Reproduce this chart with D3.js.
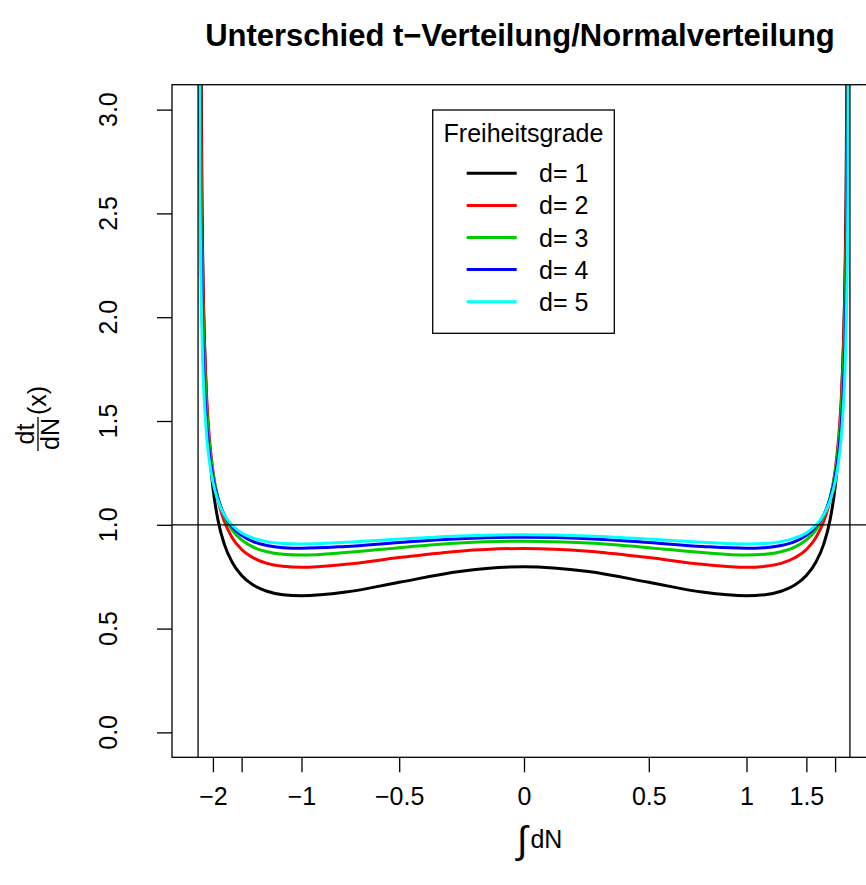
<!DOCTYPE html>
<html>
<head>
<meta charset="utf-8">
<script src="https://d3js.org/d3.v7.min.js"></script>
<style>
  body { margin: 0; background: #fff; }
  text { font-family: "Liberation Sans", Arial, Helvetica, sans-serif; fill: #000; }
</style>
</head>
<body>
<div id="chart"></div>
<script>
// x position = integral of the normal density (CDF value), curves
var pGrid = [0.00135, 0.00298, 0.00621, 0.01222, 0.01679, 0.02275, 0.03040, 0.04006, 0.05208, 0.06681, 0.08457, 0.10565, 0.13030, 0.15866, 0.22663, 0.30854, 0.40129,
             0.5,
             0.59871, 0.69146, 0.77337, 0.84134, 0.86970, 0.89435, 0.91543, 0.93319, 0.94792, 0.95994, 0.96960, 0.97725, 0.98321, 0.98778, 0.99379, 0.99702, 0.99865];
var d1 = [7.182, 4.088, 2.505, 1.654, 1.383, 1.179, 1.025, 0.908, 0.821, 0.756, 0.710, 0.680, 0.663, 0.658, 0.676, 0.723, 0.775,
          0.798,
          0.775, 0.723, 0.676, 0.658, 0.663, 0.680, 0.710, 0.756, 0.821, 0.908, 1.025, 1.179, 1.383, 1.654, 2.505, 4.088, 7.182];
var d2 = [6.185, 3.719, 2.408, 1.679, 1.441, 1.260, 1.122, 1.018, 0.939, 0.881, 0.841, 0.814, 0.800, 0.795, 0.810, 0.842, 0.873,
          0.886,
          0.873, 0.842, 0.810, 0.795, 0.800, 0.814, 0.841, 0.881, 0.939, 1.018, 1.122, 1.260, 1.441, 1.679, 2.408, 3.719, 6.185];
var d3v = [5.183, 3.261, 2.206, 1.605, 1.404, 1.250, 1.133, 1.043, 0.976, 0.927, 0.892, 0.870, 0.858, 0.854, 0.866, 0.890, 0.912,
          0.921,
          0.912, 0.890, 0.866, 0.854, 0.858, 0.870, 0.892, 0.927, 0.976, 1.043, 1.133, 1.250, 1.404, 1.605, 2.206, 3.261, 5.183];
var d4 = [4.444, 2.903, 2.035, 1.529, 1.359, 1.228, 1.127, 1.049, 0.991, 0.949, 0.919, 0.900, 0.890, 0.887, 0.896, 0.915, 0.933,
          0.940,
          0.933, 0.915, 0.896, 0.887, 0.890, 0.900, 0.919, 0.949, 0.991, 1.049, 1.127, 1.228, 1.359, 1.529, 2.035, 2.903, 4.444];
var d5 = [3.902, 2.632, 1.901, 1.467, 1.320, 1.206, 1.117, 1.049, 0.999, 0.961, 0.936, 0.919, 0.910, 0.908, 0.916, 0.931, 0.946,
          0.952,
          0.946, 0.931, 0.916, 0.908, 0.910, 0.919, 0.936, 0.961, 0.999, 1.049, 1.117, 1.206, 1.320, 1.467, 1.901, 2.632, 3.902];
var seriesNames = ["d= 1", "d= 2", "d= 3", "d= 4", "d= 5"];
var seriesColors = ["#000000", "#ff0000", "#00cd00", "#0000ff", "#00ffff"];
var xTickPos = [0.02275, 0.06681, 0.15866, 0.30854, 0.5, 0.69146, 0.84134, 0.93319, 0.97725];
var xTickLabels = ["\u22122", "", "\u22121", "\u22120.5", "0", "0.5", "1", "1.5", ""];
var yTicks = [0, 0.5, 1, 1.5, 2, 2.5, 3];
var vLines = [0, 1];
var hLines = [1];

var width = 866, height = 885;
var plotL = 172, plotR = 876, plotT = 84.7, plotB = 757.3;

var svg = d3.select("#chart").append("svg")
  .attr("width", width).attr("height", height);

var x = d3.scaleLinear().domain([-0.04, 1.04]).range([plotL, plotR]);
var y = d3.scaleLinear().domain([-0.12, 3.12]).range([plotB, plotT]);

svg.append("clipPath").attr("id", "plotclip")
  .append("rect").attr("x", plotL).attr("y", plotT)
  .attr("width", plotR - plotL).attr("height", plotB - plotT);

// curves
var all = [d1, d2, d3v, d4, d5];
var line = d3.line()
  .x(function(d, i) { return x(pGrid[i]); })
  .y(function(d) { return y(d); })
  .curve(d3.curveMonotoneX);

var g = svg.append("g").attr("clip-path", "url(#plotclip)");
all.forEach(function(vals, k) {
  g.append("path").datum(vals)
    .attr("d", line)
    .attr("fill", "none")
    .attr("stroke", seriesColors[k])
    .attr("stroke-width", 3);
});

// reference lines
vLines.forEach(function(v) {
  g.append("line").attr("x1", x(v)).attr("x2", x(v)).attr("y1", plotT).attr("y2", plotB)
    .attr("stroke", "#000").attr("stroke-width", 1.3);
});
hLines.forEach(function(h) {
  g.append("line").attr("x1", plotL).attr("x2", plotR).attr("y1", y(h)).attr("y2", y(h))
    .attr("stroke", "#000").attr("stroke-width", 1.3);
});

// box
svg.append("rect").attr("x", plotL).attr("y", plotT)
  .attr("width", plotR - plotL).attr("height", plotB - plotT)
  .attr("fill", "none").attr("stroke", "#000").attr("stroke-width", 1.3);

// x axis
var xAxis = d3.axisBottom(x).tickValues(xTickPos).tickSize(15).tickPadding(15)
  .tickFormat(function(d, i) { return xTickLabels[i]; });
var gx = svg.append("g").attr("transform", "translate(0," + plotB + ")").call(xAxis);
gx.select(".domain").remove();
gx.selectAll("line").attr("stroke", "#000").attr("stroke-width", 1.3);
gx.selectAll("text").attr("font-size", 25).attr("font-family", "Liberation Sans, Arial, sans-serif")
  .attr("fill", "#000");

// y axis
var yAxis = d3.axisLeft(y).tickValues(yTicks).tickSize(15)
  .tickFormat(d3.format(".1f"));
var gy = svg.append("g").attr("transform", "translate(" + plotL + ",0)").call(yAxis);
gy.select(".domain").remove();
gy.selectAll("line").attr("stroke", "#000").attr("stroke-width", 1.3);
gy.selectAll("text").remove();
yTicks.forEach(function(t) {
  svg.append("text")
    .attr("transform", "translate(" + (plotL - 55) + "," + y(t) + ") rotate(-90)")
    .attr("text-anchor", "middle")
    .attr("font-size", 25)
    .text(d3.format(".1f")(t));
});

// title
svg.append("text").attr("x", 520).attr("y", 46)
  .attr("text-anchor", "middle").attr("font-size", 31).attr("font-weight", "bold")
  .text("Unterschied t\u2212Verteilung/Normalverteilung");

// x axis title: integral dN
var xt = svg.append("text").attr("x", 517).attr("y", 848)
  .attr("font-size", 25);
xt.append("tspan").attr("font-size", 38).attr("dy", 5).text("\u222b");
xt.append("tspan").attr("dy", -5).attr("dx", 3).text("dN");

// y axis title: dt/dN (x)
var yl = svg.append("g").attr("transform", "translate(38," + ((plotT + plotB) / 2 - 3) + ") rotate(-90)");
yl.append("text").attr("x", -16).attr("y", -4).attr("text-anchor", "middle").attr("font-size", 25).text("dt");
yl.append("text").attr("x", -16).attr("y", 21).attr("text-anchor", "middle").attr("font-size", 25).text("dN");
yl.append("line").attr("x1", -33).attr("x2", 1).attr("y1", 0).attr("y2", 0)
  .attr("stroke", "#000").attr("stroke-width", 1.3);
yl.append("text").attr("x", 3).attr("y", 8).attr("font-size", 25).text("(x)");

// legend
var lg = svg.append("g");
lg.append("rect").attr("x", 432.7).attr("y", 110).attr("width", 181.6).attr("height", 223.3)
  .attr("fill", "#fff").attr("stroke", "#000").attr("stroke-width", 1.3);
lg.append("text").attr("x", 523.5).attr("y", 142).attr("text-anchor", "middle")
  .attr("font-size", 25).text("Freiheitsgrade");
seriesNames.forEach(function(n, i) {
  var yy = 173.3 + i * 32.1;
  lg.append("line").attr("x1", 466.7).attr("x2", 516.7).attr("y1", yy).attr("y2", yy)
    .attr("stroke", seriesColors[i]).attr("stroke-width", 3);
  lg.append("text").attr("x", 539).attr("y", yy + 9).attr("font-size", 25).text(n);
});
</script>
</body>
</html>
